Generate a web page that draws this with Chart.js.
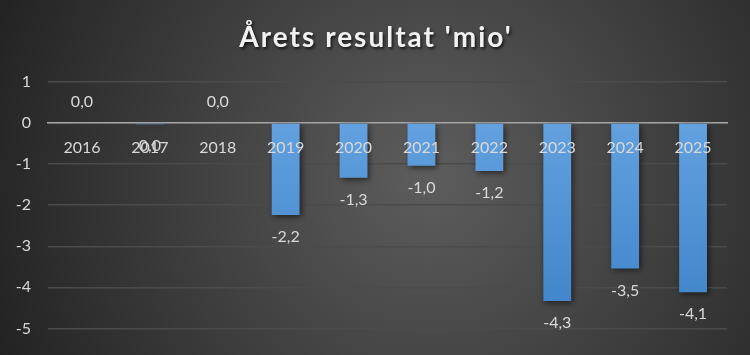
<!DOCTYPE html>
<html>
<head>
<meta charset="utf-8">
<script src="https://cdn.jsdelivr.net/npm/chart.js@4"></script>
<style>
  html, body { margin: 0; padding: 0; }
  body { width: 750px; height: 355px; overflow: hidden; }
  #wrap { position: relative; width: 750px; height: 355px; }
</style>
</head>
<body>
<div id="wrap"><canvas id="chart" width="750" height="355"></canvas></div>
<script>
// data
const years = ['2016', '2017', '2018', '2019', '2020', '2021', '2022', '2023', '2024', '2025'];
const resultat = [0.02, -0.03, 0.02, -2.24, -1.33, -1.04, -1.17, -4.33, -3.54, -4.12];
const titel = "Årets resultat 'mio'";

const fontFam = 'Lato, "Open Sans", sans-serif';
const labelColor = '#d9d9d9';

function fmt(v) {
  if (Math.abs(v) < 0.05) return '0,0';
  return v.toFixed(1).replace('.', ',');
}

// bakgrunn + tittel
const bakgrunn = {
  id: 'bakgrunn',
  beforeDraw(chart) {
    const { ctx, width, height } = chart;
    ctx.save();
    const g = ctx.createRadialGradient(430, 175, 10, 430, 175, 470);
    g.addColorStop(0, '#5c5c5c');
    g.addColorStop(1, '#222222');
    ctx.fillStyle = g;
    ctx.fillRect(0, 0, width, height);
    ctx.restore();
  },
  afterDraw(chart) {
    const ctx = chart.ctx;
    ctx.save();
    ctx.font = 'bold 28px ' + fontFam;
    ctx.letterSpacing = '2px';
    ctx.textAlign = 'center';
    ctx.textBaseline = 'alphabetic';
    ctx.shadowColor = 'rgba(0,0,0,0.7)';
    ctx.shadowBlur = 3;
    ctx.shadowOffsetX = 1.5;
    ctx.shadowOffsetY = 1.5;
    ctx.fillStyle = '#f2f2f2';
    ctx.fillText(titel, 376, 47);
    ctx.restore();
  }
};

// skygge på søylene
const skygge = {
  id: 'skygge',
  beforeDatasetsDraw(chart) {
    const ctx = chart.ctx;
    ctx.save();
    ctx.shadowColor = 'rgba(0,0,0,0.55)';
    ctx.shadowBlur = 6;
    ctx.shadowOffsetX = 2;
    ctx.shadowOffsetY = 2;
  },
  afterDatasetsDraw(chart) {
    chart.ctx.restore();
  }
};

// verdietiketter
const etiketter = {
  id: 'etiketter',
  afterDatasetsDraw(chart) {
    const ctx = chart.ctx;
    const meta = chart.getDatasetMeta(0);
    ctx.save();
    ctx.font = '16px ' + fontFam;
    ctx.fillStyle = labelColor;
    ctx.textAlign = 'center';
    ctx.textBaseline = 'middle';
    meta.data.forEach((bar, i) => {
      const v = resultat[i];
      const y = v >= 0 ? bar.y - 20 : bar.y + 22;
      ctx.fillText(fmt(v), bar.x, y);
    });
    ctx.restore();
  }
};

new Chart(document.getElementById('chart'), {
  type: 'bar',
  data: {
    labels: years,
    datasets: [{
      label: titel,
      data: resultat,
      backgroundColor: (c) => {
        const area = c.chart.chartArea;
        if (!area) return '#4a90d9';
        const g = c.chart.ctx.createLinearGradient(0, area.top, 0, area.bottom);
        g.addColorStop(0, '#6aa7e3');
        g.addColorStop(1, '#3d82c8');
        return g;
      },
      borderWidth: 0,
      categoryPercentage: 1,
      barPercentage: 0.41,
    }]
  },
  options: {
    responsive: false,
    animation: false,
    layout: { padding: { top: 82, right: 23, bottom: 23, left: 0 } },
    plugins: {
      legend: { display: false },
      title: { display: false },
      tooltip: { enabled: false }
    },
    scales: {
      x: {
        position: { y: 0 },
        grid: { display: false, drawTicks: false },
        border: { color: '#a6a6a6', width: 1.5 },
        ticks: { z: 1, color: labelColor, font: { family: fontFam, size: 16 }, padding: 15 }
      },
      y: {
        min: -5,
        max: 1,
        afterFit(scale) { scale.width = 48; },
        grid: { color: '#4b4b4b', lineWidth: 1.5, drawTicks: false },
        border: { display: false },
        ticks: { stepSize: 1, color: labelColor, font: { family: fontFam, size: 16 }, padding: 17 }
      }
    }
  },
  plugins: [bakgrunn, skygge, etiketter]
});
</script>
</body>
</html>
